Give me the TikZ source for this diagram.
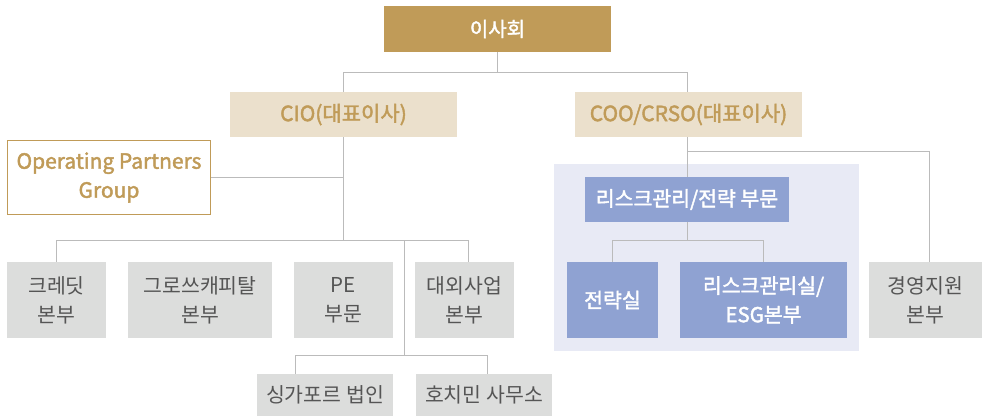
\documentclass[tikz,border=0pt]{standalone}
\usepackage{fontspec}
\setmainfont{Noto Sans CJK KR}
\newfontfamily\krmed[FakeBold=2]{Noto Sans CJK KR}
\definecolor{gold}{HTML}{C09B58}
\definecolor{beige}{HTML}{EBE0CC}
\definecolor{graybox}{HTML}{DCDDDC}
\definecolor{graytext}{HTML}{555555}
\definecolor{bluebox}{HTML}{8FA2D2}
\definecolor{panel}{HTML}{E8EAF5}
\definecolor{linec}{HTML}{BBBBBB}
\tikzset{
  box/.style={inner sep=0pt, align=center, font=\fontsize{20.5}{29}\selectfont},
  topbox/.style={box, fill=gold, text=white, font=\krmed\fontsize{20}{29}\selectfont},
  execbox/.style={box, fill=beige, text=gold, font=\krmed\fontsize{21}{29}\selectfont},
  opgbox/.style={box, draw=gold, line width=1pt, fill=white, text=gold, font=\krmed\fontsize{21}{29}\selectfont},
  unitbox/.style={box, fill=graybox, text=graytext},
  bluenode/.style={box, fill=bluebox, text=white, font=\krmed\fontsize{20.5}{29}\selectfont},
  conn/.style={draw=linec, line width=1pt}
}
\begin{document}
\begin{tikzpicture}[x=1pt,y=-1pt]
\useasboundingbox (0,0) rectangle (982,416);
\fill[panel] (554,164) rectangle (859,351);

\node[topbox, minimum width=227pt, minimum height=46pt] (board) at (497.5,29) {이사회};
\node[execbox, minimum width=227pt, minimum height=45pt] (cio) at (343.5,114.5) {CIO(대표이사)};
\node[execbox, minimum width=227pt, minimum height=45pt] (coo) at (688.5,114.5) {COO/CRSO(대표이사)};
\node[opgbox, minimum width=203pt, minimum height=74pt] (opg) at (109,177.5) {Operating Partners\\Group};

\node[unitbox, minimum width=99pt, minimum height=76pt] (credit) at (56.5,300) {크레딧\\본부};
\node[unitbox, minimum width=144pt, minimum height=76pt] (growth) at (200,300) {그로쓰캐피탈\\본부};
\node[unitbox, minimum width=99pt, minimum height=76pt] (pe) at (343.5,300) {PE\\부문};
\node[unitbox, minimum width=99pt, minimum height=76pt] (ext) at (464.5,300) {대외사업\\본부};
\node[unitbox, minimum width=136pt, minimum height=42pt] (sg) at (325,395) {싱가포르 법인};
\node[unitbox, minimum width=136pt, minimum height=42pt] (hcm) at (484,395) {호치민 사무소};

\node[bluenode, minimum width=204pt, minimum height=45pt] (risk) at (687,199.5) {리스크관리/전략 부문};
\node[bluenode, minimum width=91pt, minimum height=76pt] (strat) at (612.5,300) {전략실};
\node[bluenode, minimum width=167pt, minimum height=76pt] (riskesg) at (763.5,300) {리스크관리실/\\ESG본부};
\node[unitbox, minimum width=113pt, minimum height=76pt] (mgmt) at (925.5,300) {경영지원\\본부};

\coordinate (jb) at (497.5,72);
\coordinate (j1) at (343.5,240);
\coordinate (j2) at (404,240);
\coordinate (j3) at (404,355);
\coordinate (jc) at (687,151);
\coordinate (jr) at (687,240);

\draw[conn] (board.south) -- (jb);
\draw[conn] (jb) -| (cio.north);
\draw[conn] (jb) -| ([xshift=-1.5pt]coo.north);
\draw[conn] (cio.south) -- (j1);
\draw[conn] (opg.east) -- (opg.east -| cio.south);
\draw[conn] (credit.north) |- (j1);
\draw[conn] ([xshift=3.5pt]ext.north) |- (j1);
\draw[conn] (j2) -- (j3);
\draw[conn] (j3) -| ([xshift=-30pt]sg.north);
\draw[conn] (j3) -| ([xshift=3pt]hcm.north);

\draw[conn] ([xshift=-1.5pt]coo.south) -- (risk.north);
\draw[conn] (jc) -| ([xshift=3.5pt]mgmt.north);
\draw[conn] (risk.south) -- (jr);
\draw[conn] (jr) -| (strat.north);
\draw[conn] (jr) -| (riskesg.north);
\end{tikzpicture}
\end{document}
